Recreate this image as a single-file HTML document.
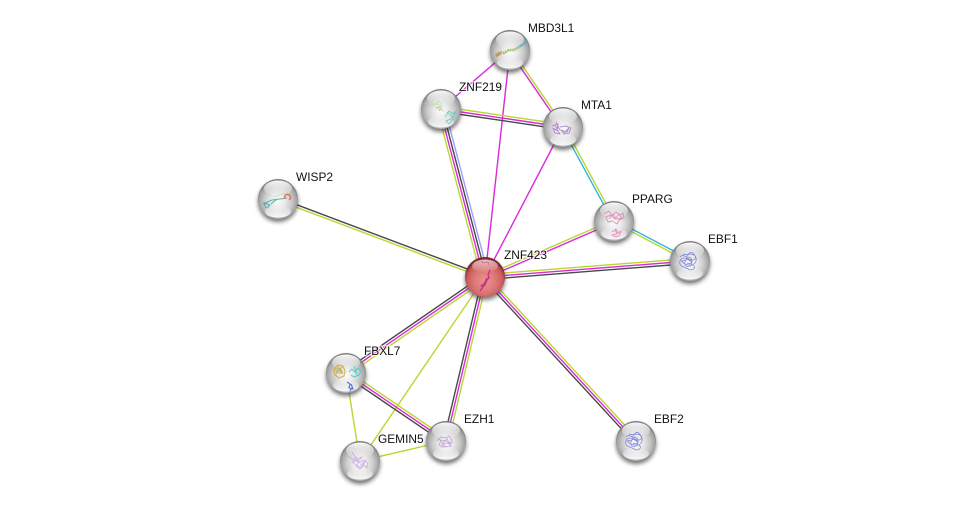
<!DOCTYPE html>
<html><head><meta charset="utf-8"><title>ZNF423 network</title>
<style>
html,body{margin:0;padding:0;background:#fff;width:975px;height:506px;overflow:hidden}
svg{display:block}
text{font-family:"Liberation Sans",sans-serif;font-size:11.9px;fill:#111;paint-order:stroke;stroke:rgba(255,255,255,.7);stroke-width:2.5px}
line{stroke-width:1.4}
.y{stroke:#bbd631}.m{stroke:#d92bd9}.d{stroke:#484848}.b{stroke:#a0a0ff}.c{stroke:#2db5dc}
.s{fill:none;stroke-width:.8;stroke-linejoin:round}
.t{filter:url(#t);opacity:.8}
</style></head><body>
<svg width="975" height="506" viewBox="0 0 975 506" xmlns="http://www.w3.org/2000/svg">
<defs>
<radialGradient id="g" cx="50%" cy="56%" r="53%">
<stop offset="0" stop-color="#fbfbfb"/><stop offset=".35" stop-color="#e9e9e9"/><stop offset=".65" stop-color="#c9c9c9"/><stop offset=".9" stop-color="#a0a0a0"/><stop offset="1" stop-color="#7c7c7c"/>
</radialGradient>
<radialGradient id="r" cx="50%" cy="60%" r="53%">
<stop offset="0" stop-color="#ea9494"/><stop offset=".55" stop-color="#dc7676"/><stop offset=".85" stop-color="#c85a5a"/><stop offset=".97" stop-color="#9c3a3a"/><stop offset="1" stop-color="#7c2828"/>
</radialGradient>
<linearGradient id="h" x1="0" y1="0" x2="0" y2="1">
<stop offset="0" stop-color="#fff" stop-opacity=".95"/><stop offset="1" stop-color="#fff" stop-opacity="0"/>
</linearGradient>
<linearGradient id="k" x1="0" y1="0" x2="0" y2="1">
<stop offset="0" stop-color="#fff" stop-opacity="0"/><stop offset="1" stop-color="#fff" stop-opacity=".95"/>
</linearGradient>
<filter id="f" x="-30%" y="-30%" width="160%" height="160%"><feGaussianBlur stdDeviation="2"/></filter>
<filter id="t" x="-20%" y="-20%" width="140%" height="140%"><feGaussianBlur stdDeviation=".35"/></filter>
<g id="n">
<circle cx="0" cy="3" r="20" fill="#333" opacity=".68" filter="url(#f)"/>
<circle r="20" fill="url(#g)"/>
<ellipse cx="0" cy="-10.5" rx="14" ry="8" fill="url(#h)"/>
<ellipse cx="0" cy="12.5" rx="13" ry="6" fill="url(#k)"/>
</g>
<g id="nr">
<circle cx="0" cy="3" r="20" fill="#333" opacity=".65" filter="url(#f)"/>
<circle r="20" fill="url(#r)"/>
<ellipse cx="0" cy="-11" rx="13" ry="6.5" fill="url(#h)" opacity=".75"/>
</g>
<g id="fold">
<path class="s" d="M-9,-3c3,-4 6,2 8,-2s5,-3 7,1s-3,5 -6,3s-6,5 -3,7s6,-3 8,0s-3,5 -6,3s-7,-2 -8,-5s1,-6 4,-6s7,2 8,5"/>
<path class="s" d="M-6,-6c4,2 9,-2 12,2s0,9 -4,9s-9,-1 -9,-5M-3,-2c3,-2 6,0 6,3s-3,3 -5,2M-8,1c3,1 5,-3 8,-1s4,4 1,6"/>
</g>
</defs>
<rect width="975" height="506" fill="#fff"/>

<line class="d" x1="485.4" y1="275.8" x2="278.4" y2="197.8"/>
<line class="y" x1="484.6" y1="278.2" x2="277.6" y2="200.2"/>

<line class="y" x1="481.4" y1="278" x2="437.4" y2="110"/>
<line class="m" x1="483.8" y1="277.3" x2="439.8" y2="109.3"/>
<line class="d" x1="486.2" y1="276.7" x2="442.2" y2="108.7"/>
<line class="b" x1="488.6" y1="276" x2="444.6" y2="108"/>

<line class="m" x1="485" y1="277" x2="510" y2="50"/>
<line class="m" x1="485" y1="277" x2="563" y2="127"/>
<line class="m" x1="441" y1="109" x2="510" y2="50"/>
<line class="y" x1="511" y1="49.3" x2="564" y2="126.3"/>
<line class="m" x1="509" y1="50.7" x2="562" y2="127.7"/>

<line class="y" x1="441.4" y1="106.5" x2="563.4" y2="124.5"/>
<line class="m" x1="441" y1="109" x2="563" y2="127"/>
<line class="d" x1="440.6" y1="111.5" x2="562.6" y2="129.5"/>

<line class="y" x1="564.1" y1="126.4" x2="615.1" y2="220.4"/>
<line class="c" x1="561.9" y1="127.6" x2="612.9" y2="221.6"/>

<line class="c" x1="614.6" y1="219.9" x2="690.6" y2="259.9"/>
<line class="y" x1="613.4" y1="222.1" x2="689.4" y2="262.1"/>

<line class="y" x1="484.5" y1="275.85" x2="613.5" y2="219.85"/>
<line class="m" x1="485.5" y1="278.15" x2="614.5" y2="222.15"/>

<line class="y" x1="484.8" y1="274.5" x2="689.8" y2="258.5"/>
<line class="m" x1="485" y1="277" x2="690" y2="261"/>
<line class="d" x1="485.2" y1="279.5" x2="690.2" y2="263.5"/>

<line class="y" x1="486.8" y1="275.3" x2="637.8" y2="439.3"/>
<line class="m" x1="485" y1="277" x2="636" y2="441"/>
<line class="d" x1="483.2" y1="278.7" x2="634.2" y2="442.7"/>

<line class="d" x1="482.6" y1="276.4" x2="443.6" y2="440.4"/>
<line class="m" x1="485" y1="277" x2="446" y2="441"/>
<line class="y" x1="487.4" y1="277.6" x2="448.4" y2="441.6"/>

<line class="d" x1="483.6" y1="274.9" x2="344.6" y2="370.9"/>
<line class="m" x1="485" y1="277" x2="346" y2="373"/>
<line class="y" x1="486.4" y1="279.1" x2="347.4" y2="375.1"/>

<line class="y" x1="485" y1="277" x2="360" y2="461"/>
<line class="y" x1="346" y1="373" x2="360" y2="461"/>
<line class="y" x1="446" y1="441" x2="360" y2="461"/>

<line class="y" x1="347.4" y1="370.9" x2="447.4" y2="438.9"/>
<line class="m" x1="346" y1="373" x2="446" y2="441"/>
<line class="d" x1="344.6" y1="375.1" x2="444.6" y2="443.1"/>

<use href="#n" x="510" y="50"/>
<g class="t">
<path class="s" d="M496,55l4,-3l4,1l5,-3l5,0l5,-3" stroke="#8fbf50" style="stroke-width:2.6;stroke-dasharray:2 .6"/>
<path class="s" d="M496,56l5,-3" stroke="#d08050" style="stroke-width:2.6"/>
<path class="s" d="M519,47l6,-4l1,-3" stroke="#50b0c0" style="stroke-width:2"/>
</g>

<use href="#n" x="441" y="109"/>
<g class="t">
<path class="s" d="M425,104l5,-3l4,4l5,-4l3,5l-6,2l7,3l-5,-7l-8,1l3,-5" stroke="#b8dca8"/>
<path class="s" d="M436,107l5,1l-2,3" stroke="#e8a0a0"/>
<path class="s" d="M445,117l4,-6l4,3l3,-3l-3,7l-7,3l3,3l4,-5M447,112l6,5" stroke="#40c8b8"/>
</g>

<use href="#n" x="563" y="127"/>
<g class="t">
<path class="s" d="M552,126l6,-2l-1,6l3,4l-5,-1l-2,-5l5,3l-3,-6M560,127l6,-1l5,2l-2,5l-5,1l-3,-4l6,2l2,-4l-5,5M556,122l4,8" stroke="#a87cc8" style="stroke-width:1.1"/>
</g>

<use href="#n" x="278" y="199"/>
<g class="t">
<path class="s" d="M263,204l9,-4l8,-1l7,-1M266,208l-2,-5l6,2l-3,3M271,204l6,-5" stroke="#2fa8a0" style="stroke-width:1.1"/>
<path class="s" d="M285,199a3,3 0 1 1 4,1" stroke="#e06030" style="stroke-width:1.5"/>
<path class="s" d="M274,197l8,-3l6,-1" stroke="#c8d8a0"/>
</g>

<use href="#n" x="614" y="221"/>
<g class="t">
<path class="s" d="M604,214l5,-3l3,5l4,-4l4,3l3,-2l1,5l-5,2l-2,4l-5,-3l-4,1l-2,-5l5,-2l4,4l4,-5l3,4l-6,1l-3,-5l-4,5M612,232l4,-3l2,4l3,-2l-2,5l-4,1l-3,-2l5,-1l-2,-4" stroke="#dc80b0" style="stroke-width:1"/>
</g>

<use href="#n" x="690" y="261"/>
<use href="#fold" x="689" y="260" stroke="#6a70d8" class="t"/>

<use href="#nr" x="485" y="277"/>
<g class="t">
<path class="s" d="M490,270l-2,5l1,3l-4,4l-2,5l-3,4M487,278l-3,6l-3,2l4,-1l2,-5" stroke="#c02080" style="stroke-width:1.4"/>
<path class="s" d="M481,261l3,2l4,-1l1,3" stroke="#d84098"/>
</g>

<use href="#n" x="346" y="373"/>
<g class="t">
<path class="s" d="M334,369l4,-4l5,1l2,5l-1,5l-5,2l-4,-3l-1,-5l5,-2l3,3l-3,3M337,365l5,9M343,366l-7,8" stroke="#d8a840" style="stroke-width:1.3"/>
<path class="s" d="M336,372l4,-3l3,4" stroke="#80c060" style="stroke-width:1.3"/>
<path class="s" d="M349,372l3,-3l3,3l3,-4l3,3l-2,4l-5,2l-3,-2M354,366l3,9" stroke="#40c8c8" style="stroke-width:1.1"/>
<path class="s" d="M347,382l3,2l-1,4l4,1l-2,-5M352,388l-2,3" stroke="#4060d8" style="stroke-width:1.3"/>
</g>

<use href="#n" x="446" y="441"/>
<g class="t">
<path class="s" d="M437,441l4,-4l5,1l3,-2l3,4l-3,4l-4,-1l-3,4l-3,-2l2,-5l5,1l4,3l3,-2M441,445l6,-6l4,7l-8,1M438,438l8,9" stroke="#b898d0" style="stroke-width:.9"/>
</g>

<use href="#n" x="360" y="461"/>
<g class="t">
<path class="s" d="M349,456l4,4l3,-3l3,5l-3,4l4,3l4,-4l3,3l1,-5l-5,-3l-3,3l-3,-4l5,-2l-4,5l-5,-3M352,452l5,8l-5,2l9,6l5,-8l-6,6" stroke="#c8a8e0" style="stroke-width:1"/>
</g>

<use href="#n" x="636" y="441"/>
<use href="#fold" x="635" y="440" stroke="#6a70d8" class="t"/>

<text x="528" y="32">MBD3L1</text>
<text x="459" y="91">ZNF219</text>
<text x="581" y="109">MTA1</text>
<text x="296" y="181">WISP2</text>
<text x="632" y="203">PPARG</text>
<text x="708" y="243">EBF1</text>
<text x="504" y="259">ZNF423</text>
<text x="364" y="355">FBXL7</text>
<text x="464" y="423">EZH1</text>
<text x="378" y="443">GEMIN5</text>
<text x="654" y="423">EBF2</text>
</svg>
</body></html>
